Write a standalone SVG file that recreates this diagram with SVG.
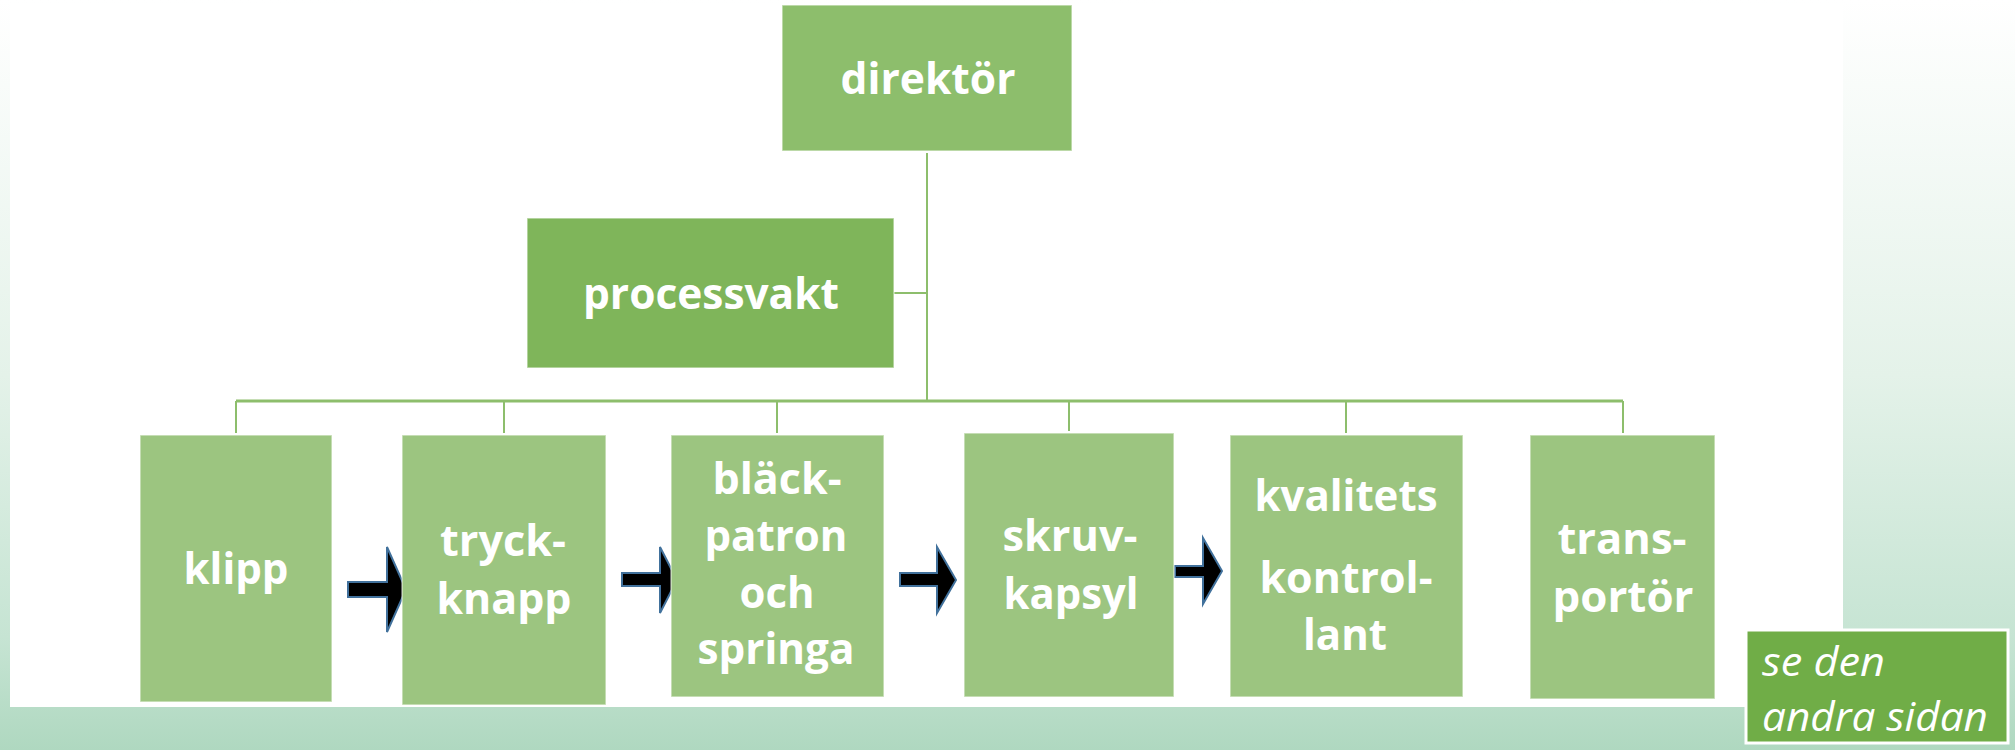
<svg xmlns="http://www.w3.org/2000/svg" width="2015" height="750" viewBox="0 0 2015 750">
  <defs>
    <linearGradient id="bg" x1="0" y1="0" x2="0" y2="1">
      <stop offset="0" stop-color="#FFFFFF"/>
      <stop offset="0.5" stop-color="#E4F2E9"/>
      <stop offset="0.85" stop-color="#C6E4D3"/>
      <stop offset="1" stop-color="#AFD8C0"/>
    </linearGradient>
    <style>
      .box { stroke: #FFFFFF; stroke-opacity: 0.55; stroke-width: 1.5; }
      .top { fill: #8DBE6C; }
      .mid { fill: #7FB55A; }
      .low { fill: #9CC580; }
      .lbl { font-family: "Open Sans", "Liberation Sans", sans-serif; font-weight: bold; font-size: 43px; fill: #FFFFFF; text-anchor: middle; }
      .note { font-family: "Open Sans", "Liberation Sans", sans-serif; font-style: italic; font-size: 40px; fill: #FFFFFF; }
      .ln { stroke: #8DBE6C; stroke-width: 2; fill: none; }
      .bus { stroke: #8DBE6C; stroke-width: 3; fill: none; }
      .arr { fill: #000000; stroke: #41719C; stroke-width: 2; stroke-linejoin: miter; }
    </style>
  </defs>

  <rect x="0" y="0" width="2015" height="750" fill="url(#bg)"/>
  <rect x="10" y="4" width="1833" height="703" fill="#FFFFFF"/>

  <g id="connectors">
    <line class="ln" x1="927" y1="153" x2="927" y2="401"/>
    <line class="ln" x1="894" y1="293" x2="927" y2="293"/>
    <line class="bus" x1="236" y1="401" x2="1623" y2="401"/>
    <line class="ln" x1="236" y1="401" x2="236" y2="433"/>
    <line class="ln" x1="504" y1="401" x2="504" y2="433"/>
    <line class="ln" x1="777" y1="401" x2="777" y2="433"/>
    <line class="ln" x1="1069" y1="401" x2="1069" y2="431"/>
    <line class="ln" x1="1346" y1="401" x2="1346" y2="433"/>
    <line class="ln" x1="1623" y1="401" x2="1623" y2="433"/>
    <polygon class="arr" points="348,582 387,582 387,547 406,589.5 387,632 387,597 348,597"/>
    <polygon class="arr" points="622,573 660,573 660,547 677,580 660,613 660,586 622,586"/>
    <polygon class="arr" points="900,573 937,573 937,547 956,580 937,613 937,586 900,586"/>
    <polygon class="arr" points="1175,566 1203,566 1203,538 1222,571 1203,604 1203,577 1175,577"/>
  </g>

  <g id="direktor">
    <rect class="box top" x="782" y="5" width="290" height="146"/>
    <text class="lbl" x="928" y="94" textLength="175" lengthAdjust="spacingAndGlyphs">direktör</text>
  </g>

  <g id="processvakt">
    <rect class="box mid" x="527" y="218" width="367" height="150"/>
    <text class="lbl" x="711" y="309" textLength="256" lengthAdjust="spacingAndGlyphs">processvakt</text>
  </g>

  <g id="klipp">
    <rect class="box low" x="140" y="435" width="192" height="267"/>
    <text class="lbl" x="236" y="584" textLength="105" lengthAdjust="spacingAndGlyphs">klipp</text>
  </g>

  <g id="tryckknapp">
    <rect class="box low" x="402" y="435" width="204" height="270"/>
    <text class="lbl" x="503" y="556" textLength="126" lengthAdjust="spacingAndGlyphs">tryck-</text>
    <text class="lbl" x="504" y="614" textLength="135" lengthAdjust="spacingAndGlyphs">knapp</text>
  </g>

  <g id="blackpatron">
    <rect class="box low" x="671" y="435" width="213" height="262"/>
    <text class="lbl" x="777" y="494" textLength="129" lengthAdjust="spacingAndGlyphs">bläck-</text>
    <text class="lbl" x="776" y="551" textLength="143" lengthAdjust="spacingAndGlyphs">patron</text>
    <text class="lbl" x="777" y="608" textLength="75" lengthAdjust="spacingAndGlyphs">och</text>
    <text class="lbl" x="776" y="664" textLength="157" lengthAdjust="spacingAndGlyphs">springa</text>
  </g>

  <g id="skruvkapsyl">
    <rect class="box low" x="964" y="433" width="210" height="264"/>
    <text class="lbl" x="1070" y="551" textLength="135" lengthAdjust="spacingAndGlyphs">skruv-</text>
    <text class="lbl" x="1071" y="609" textLength="135" lengthAdjust="spacingAndGlyphs">kapsyl</text>
  </g>

  <g id="kvalitetskontrollant">
    <rect class="box low" x="1230" y="435" width="233" height="262"/>
    <text class="lbl" x="1346" y="511" textLength="183" lengthAdjust="spacingAndGlyphs">kvalitets</text>
    <text class="lbl" x="1346" y="593" textLength="173" lengthAdjust="spacingAndGlyphs">kontrol-</text>
    <text class="lbl" x="1345" y="650" textLength="84" lengthAdjust="spacingAndGlyphs">lant</text>
  </g>

  <g id="transportor">
    <rect class="box low" x="1530" y="435" width="185" height="264"/>
    <text class="lbl" x="1622" y="554" textLength="129" lengthAdjust="spacingAndGlyphs">trans-</text>
    <text class="lbl" x="1623" y="612" textLength="141" lengthAdjust="spacingAndGlyphs">portör</text>
  </g>

  <g id="note">
    <rect x="1746" y="630" width="262" height="113" fill="#70AD47" stroke="#FFFFFF" stroke-width="3"/>
    <text class="note" x="1762" y="676" textLength="123" lengthAdjust="spacingAndGlyphs">se den</text>
    <text class="note" x="1762" y="731" textLength="226" lengthAdjust="spacingAndGlyphs">andra sidan</text>
  </g>
</svg>
